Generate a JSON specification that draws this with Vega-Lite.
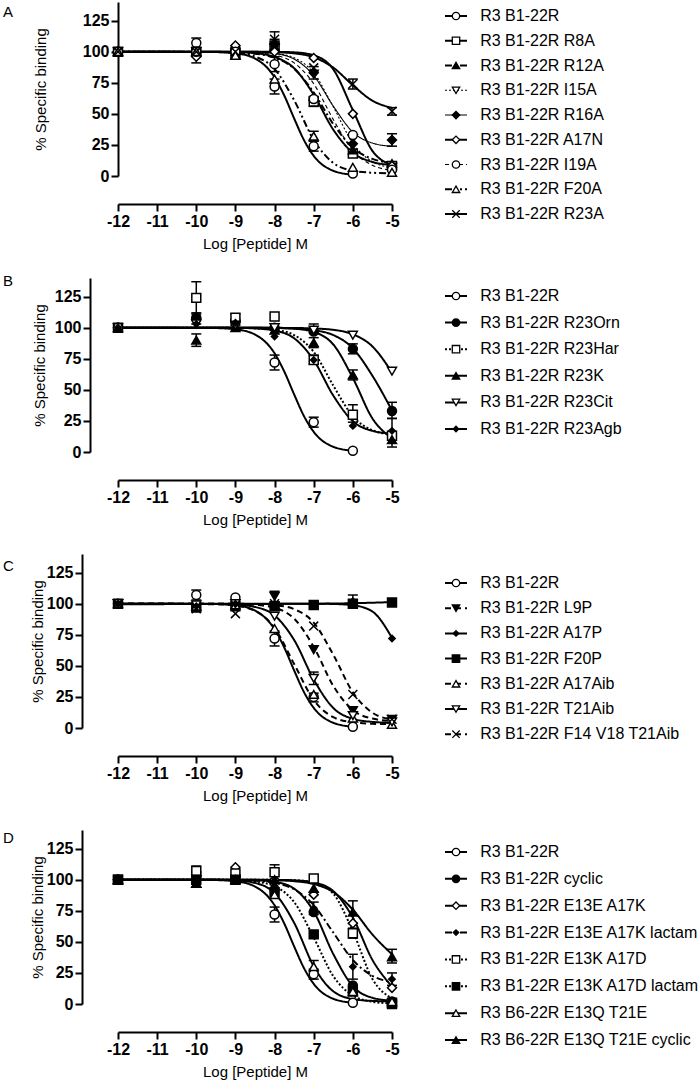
{
"$schema": "https://vega.github.io/schema/vega-lite/v6.json",
"padding": {"left": 3, "top": 2, "right": 5, "bottom": 5},
"background": "white",
"config": {
  "font": "Liberation Sans",
  "view": {"stroke": null},
  "axis": {"domainColor": "black", "domainWidth": 2, "tickColor": "black", "tickWidth": 2, "tickSize": 7, "labelFont": "Liberation Sans", "labelFontSize": 16, "labelFontWeight": "bold", "labelColor": "black", "titleFont": "Liberation Sans", "titleFontSize": 15, "titleFontWeight": "normal", "titleColor": "black", "grid": false, "labelPadding": 2, "titlePadding": 7},
  "title": {"font": "Liberation Sans", "fontSize": 15, "fontWeight": "normal", "color": "black", "anchor": "start", "frame": "group", "offset": 0}
},
"datasets": {
"pts": [
{"p":"A","s":"R3 B1-22R","x":-12,"y":100},{"p":"A","s":"R3 B1-22R","x":-10,"y":107},{"p":"A","s":"R3 B1-22R","x":-9,"y":103},{"p":"A","s":"R3 B1-22R","x":-8,"y":72},{"p":"A","s":"R3 B1-22R","x":-7,"y":24},{"p":"A","s":"R3 B1-22R","x":-6,"y":2},
{"p":"A","s":"R3 B1-22R R8A","x":-12,"y":100},{"p":"A","s":"R3 B1-22R R8A","x":-10,"y":100},{"p":"A","s":"R3 B1-22R R8A","x":-9,"y":98},{"p":"A","s":"R3 B1-22R R8A","x":-8,"y":105},{"p":"A","s":"R3 B1-22R R8A","x":-7,"y":60},{"p":"A","s":"R3 B1-22R R8A","x":-6,"y":18},{"p":"A","s":"R3 B1-22R R8A","x":-5,"y":8},
{"p":"A","s":"R3 B1-22R R12A","x":-12,"y":100},{"p":"A","s":"R3 B1-22R R12A","x":-10,"y":100},{"p":"A","s":"R3 B1-22R R12A","x":-9,"y":97},{"p":"A","s":"R3 B1-22R R12A","x":-8,"y":104},{"p":"A","s":"R3 B1-22R R12A","x":-7,"y":64},{"p":"A","s":"R3 B1-22R R12A","x":-6,"y":21},{"p":"A","s":"R3 B1-22R R12A","x":-5,"y":10},
{"p":"A","s":"R3 B1-22R I15A","x":-12,"y":100},{"p":"A","s":"R3 B1-22R I15A","x":-10,"y":100},{"p":"A","s":"R3 B1-22R I15A","x":-9,"y":99},{"p":"A","s":"R3 B1-22R I15A","x":-8,"y":103},{"p":"A","s":"R3 B1-22R I15A","x":-7,"y":82},{"p":"A","s":"R3 B1-22R I15A","x":-6,"y":30},{"p":"A","s":"R3 B1-22R I15A","x":-5,"y":7},
{"p":"A","s":"R3 B1-22R R16A","x":-12,"y":100},{"p":"A","s":"R3 B1-22R R16A","x":-10,"y":99},{"p":"A","s":"R3 B1-22R R16A","x":-9,"y":100},{"p":"A","s":"R3 B1-22R R16A","x":-8,"y":106},{"p":"A","s":"R3 B1-22R R16A","x":-7,"y":83},{"p":"A","s":"R3 B1-22R R16A","x":-6,"y":26},{"p":"A","s":"R3 B1-22R R16A","x":-5,"y":29},
{"p":"A","s":"R3 B1-22R A17N","x":-12,"y":100},{"p":"A","s":"R3 B1-22R A17N","x":-10,"y":96},{"p":"A","s":"R3 B1-22R A17N","x":-9,"y":105},{"p":"A","s":"R3 B1-22R A17N","x":-8,"y":100},{"p":"A","s":"R3 B1-22R A17N","x":-7,"y":95},{"p":"A","s":"R3 B1-22R A17N","x":-6,"y":50},{"p":"A","s":"R3 B1-22R A17N","x":-5,"y":8},
{"p":"A","s":"R3 B1-22R I19A","x":-12,"y":100},{"p":"A","s":"R3 B1-22R I19A","x":-10,"y":100},{"p":"A","s":"R3 B1-22R I19A","x":-9,"y":100},{"p":"A","s":"R3 B1-22R I19A","x":-8,"y":90},{"p":"A","s":"R3 B1-22R I19A","x":-7,"y":62},{"p":"A","s":"R3 B1-22R I19A","x":-6,"y":33},{"p":"A","s":"R3 B1-22R I19A","x":-5,"y":5},
{"p":"A","s":"R3 B1-22R F20A","x":-12,"y":100},{"p":"A","s":"R3 B1-22R F20A","x":-10,"y":100},{"p":"A","s":"R3 B1-22R F20A","x":-9,"y":97},{"p":"A","s":"R3 B1-22R F20A","x":-8,"y":78},{"p":"A","s":"R3 B1-22R F20A","x":-7,"y":32},{"p":"A","s":"R3 B1-22R F20A","x":-6,"y":7},{"p":"A","s":"R3 B1-22R F20A","x":-5,"y":3},
{"p":"A","s":"R3 B1-22R R23A","x":-12,"y":100},{"p":"A","s":"R3 B1-22R R23A","x":-10,"y":100},{"p":"A","s":"R3 B1-22R R23A","x":-9,"y":100},{"p":"A","s":"R3 B1-22R R23A","x":-8,"y":110},{"p":"A","s":"R3 B1-22R R23A","x":-7,"y":87},{"p":"A","s":"R3 B1-22R R23A","x":-6,"y":74},{"p":"A","s":"R3 B1-22R R23A","x":-5,"y":52},
{"p":"B","s":"R3 B1-22R","x":-12,"y":100},{"p":"B","s":"R3 B1-22R","x":-10,"y":107},{"p":"B","s":"R3 B1-22R","x":-9,"y":104},{"p":"B","s":"R3 B1-22R","x":-8,"y":72},{"p":"B","s":"R3 B1-22R","x":-7,"y":24},{"p":"B","s":"R3 B1-22R","x":-6,"y":1},
{"p":"B","s":"R3 B1-22R R23Orn","x":-12,"y":100},{"p":"B","s":"R3 B1-22R R23Orn","x":-10,"y":108},{"p":"B","s":"R3 B1-22R R23Orn","x":-9,"y":106},{"p":"B","s":"R3 B1-22R R23Orn","x":-8,"y":100},{"p":"B","s":"R3 B1-22R R23Orn","x":-7,"y":97},{"p":"B","s":"R3 B1-22R R23Orn","x":-6,"y":83},{"p":"B","s":"R3 B1-22R R23Orn","x":-5,"y":33},
{"p":"B","s":"R3 B1-22R R23Har","x":-12,"y":100},{"p":"B","s":"R3 B1-22R R23Har","x":-10,"y":124},{"p":"B","s":"R3 B1-22R R23Har","x":-9,"y":108},{"p":"B","s":"R3 B1-22R R23Har","x":-8,"y":109},{"p":"B","s":"R3 B1-22R R23Har","x":-7,"y":74},{"p":"B","s":"R3 B1-22R R23Har","x":-6,"y":30},{"p":"B","s":"R3 B1-22R R23Har","x":-5,"y":13},
{"p":"B","s":"R3 B1-22R R23K","x":-12,"y":100},{"p":"B","s":"R3 B1-22R R23K","x":-10,"y":90},{"p":"B","s":"R3 B1-22R R23K","x":-9,"y":100},{"p":"B","s":"R3 B1-22R R23K","x":-8,"y":98},{"p":"B","s":"R3 B1-22R R23K","x":-7,"y":88},{"p":"B","s":"R3 B1-22R R23K","x":-6,"y":62},{"p":"B","s":"R3 B1-22R R23K","x":-5,"y":10},
{"p":"B","s":"R3 B1-22R R23Cit","x":-12,"y":100},{"p":"B","s":"R3 B1-22R R23Cit","x":-10,"y":103},{"p":"B","s":"R3 B1-22R R23Cit","x":-9,"y":102},{"p":"B","s":"R3 B1-22R R23Cit","x":-8,"y":100},{"p":"B","s":"R3 B1-22R R23Cit","x":-7,"y":98},{"p":"B","s":"R3 B1-22R R23Cit","x":-6,"y":94},{"p":"B","s":"R3 B1-22R R23Cit","x":-5,"y":65},
{"p":"B","s":"R3 B1-22R R23Agb","x":-12,"y":100},{"p":"B","s":"R3 B1-22R R23Agb","x":-10,"y":103},{"p":"B","s":"R3 B1-22R R23Agb","x":-9,"y":104},{"p":"B","s":"R3 B1-22R R23Agb","x":-8,"y":93},{"p":"B","s":"R3 B1-22R R23Agb","x":-7,"y":74},{"p":"B","s":"R3 B1-22R R23Agb","x":-6,"y":21},{"p":"B","s":"R3 B1-22R R23Agb","x":-5,"y":17},
{"p":"C","s":"R3 B1-22R","x":-12,"y":100},{"p":"C","s":"R3 B1-22R","x":-10,"y":107},{"p":"C","s":"R3 B1-22R","x":-9,"y":105},{"p":"C","s":"R3 B1-22R","x":-8,"y":72},{"p":"C","s":"R3 B1-22R","x":-7,"y":25},{"p":"C","s":"R3 B1-22R","x":-6,"y":1},
{"p":"C","s":"R3 B1-22R L9P","x":-12,"y":100},{"p":"C","s":"R3 B1-22R L9P","x":-10,"y":97},{"p":"C","s":"R3 B1-22R L9P","x":-9,"y":100},{"p":"C","s":"R3 B1-22R L9P","x":-8,"y":106},{"p":"C","s":"R3 B1-22R L9P","x":-7,"y":63},{"p":"C","s":"R3 B1-22R L9P","x":-6,"y":14},{"p":"C","s":"R3 B1-22R L9P","x":-5,"y":7},
{"p":"C","s":"R3 B1-22R A17P","x":-12,"y":100},{"p":"C","s":"R3 B1-22R A17P","x":-10,"y":98},{"p":"C","s":"R3 B1-22R A17P","x":-9,"y":100},{"p":"C","s":"R3 B1-22R A17P","x":-8,"y":100},{"p":"C","s":"R3 B1-22R A17P","x":-7,"y":99},{"p":"C","s":"R3 B1-22R A17P","x":-6,"y":102},{"p":"C","s":"R3 B1-22R A17P","x":-5,"y":72},
{"p":"C","s":"R3 B1-22R F20P","x":-12,"y":100},{"p":"C","s":"R3 B1-22R F20P","x":-10,"y":97},{"p":"C","s":"R3 B1-22R F20P","x":-9,"y":98},{"p":"C","s":"R3 B1-22R F20P","x":-8,"y":98},{"p":"C","s":"R3 B1-22R F20P","x":-7,"y":99},{"p":"C","s":"R3 B1-22R F20P","x":-6,"y":100},{"p":"C","s":"R3 B1-22R F20P","x":-5,"y":101},
{"p":"C","s":"R3 B1-22R A17Aib","x":-12,"y":100},{"p":"C","s":"R3 B1-22R A17Aib","x":-10,"y":98},{"p":"C","s":"R3 B1-22R A17Aib","x":-9,"y":99},{"p":"C","s":"R3 B1-22R A17Aib","x":-8,"y":80},{"p":"C","s":"R3 B1-22R A17Aib","x":-7,"y":27},{"p":"C","s":"R3 B1-22R A17Aib","x":-6,"y":8},{"p":"C","s":"R3 B1-22R A17Aib","x":-5,"y":3},
{"p":"C","s":"R3 B1-22R T21Aib","x":-12,"y":100},{"p":"C","s":"R3 B1-22R T21Aib","x":-10,"y":99},{"p":"C","s":"R3 B1-22R T21Aib","x":-9,"y":100},{"p":"C","s":"R3 B1-22R T21Aib","x":-8,"y":90},{"p":"C","s":"R3 B1-22R T21Aib","x":-7,"y":40},{"p":"C","s":"R3 B1-22R T21Aib","x":-6,"y":10},{"p":"C","s":"R3 B1-22R T21Aib","x":-5,"y":5},
{"p":"C","s":"R3 B1-22R F14 V18 T21Aib","x":-12,"y":100},{"p":"C","s":"R3 B1-22R F14 V18 T21Aib","x":-10,"y":96},{"p":"C","s":"R3 B1-22R F14 V18 T21Aib","x":-9,"y":92},{"p":"C","s":"R3 B1-22R F14 V18 T21Aib","x":-8,"y":100},{"p":"C","s":"R3 B1-22R F14 V18 T21Aib","x":-7,"y":82},{"p":"C","s":"R3 B1-22R F14 V18 T21Aib","x":-6,"y":27},{"p":"C","s":"R3 B1-22R F14 V18 T21Aib","x":-5,"y":7},
{"p":"D","s":"R3 B1-22R","x":-12,"y":100},{"p":"D","s":"R3 B1-22R","x":-10,"y":106},{"p":"D","s":"R3 B1-22R","x":-9,"y":103},{"p":"D","s":"R3 B1-22R","x":-8,"y":72},{"p":"D","s":"R3 B1-22R","x":-7,"y":24},{"p":"D","s":"R3 B1-22R","x":-6,"y":1},
{"p":"D","s":"R3 B1-22R cyclic","x":-12,"y":100},{"p":"D","s":"R3 B1-22R cyclic","x":-10,"y":103},{"p":"D","s":"R3 B1-22R cyclic","x":-9,"y":102},{"p":"D","s":"R3 B1-22R cyclic","x":-8,"y":92},{"p":"D","s":"R3 B1-22R cyclic","x":-7,"y":74},{"p":"D","s":"R3 B1-22R cyclic","x":-6,"y":15},{"p":"D","s":"R3 B1-22R cyclic","x":-5,"y":2},
{"p":"D","s":"R3 B1-22R E13E A17K","x":-12,"y":100},{"p":"D","s":"R3 B1-22R E13E A17K","x":-10,"y":103},{"p":"D","s":"R3 B1-22R E13E A17K","x":-9,"y":110},{"p":"D","s":"R3 B1-22R E13E A17K","x":-8,"y":100},{"p":"D","s":"R3 B1-22R E13E A17K","x":-7,"y":88},{"p":"D","s":"R3 B1-22R E13E A17K","x":-6,"y":65},{"p":"D","s":"R3 B1-22R E13E A17K","x":-5,"y":13},
{"p":"D","s":"R3 B1-22R E13E A17K lactam","x":-12,"y":100},{"p":"D","s":"R3 B1-22R E13E A17K lactam","x":-10,"y":100},{"p":"D","s":"R3 B1-22R E13E A17K lactam","x":-9,"y":100},{"p":"D","s":"R3 B1-22R E13E A17K lactam","x":-8,"y":95},{"p":"D","s":"R3 B1-22R E13E A17K lactam","x":-7,"y":77},{"p":"D","s":"R3 B1-22R E13E A17K lactam","x":-6,"y":30},{"p":"D","s":"R3 B1-22R E13E A17K lactam","x":-5,"y":20},
{"p":"D","s":"R3 B1-22R E13K A17D","x":-12,"y":100},{"p":"D","s":"R3 B1-22R E13K A17D","x":-10,"y":107},{"p":"D","s":"R3 B1-22R E13K A17D","x":-9,"y":105},{"p":"D","s":"R3 B1-22R E13K A17D","x":-8,"y":106},{"p":"D","s":"R3 B1-22R E13K A17D","x":-7,"y":101},{"p":"D","s":"R3 B1-22R E13K A17D","x":-6,"y":57},{"p":"D","s":"R3 B1-22R E13K A17D","x":-5,"y":1},
{"p":"D","s":"R3 B1-22R E13K A17D lactam","x":-12,"y":100},{"p":"D","s":"R3 B1-22R E13K A17D lactam","x":-10,"y":100},{"p":"D","s":"R3 B1-22R E13K A17D lactam","x":-9,"y":100},{"p":"D","s":"R3 B1-22R E13K A17D lactam","x":-8,"y":90},{"p":"D","s":"R3 B1-22R E13K A17D lactam","x":-7,"y":56},{"p":"D","s":"R3 B1-22R E13K A17D lactam","x":-6,"y":10},{"p":"D","s":"R3 B1-22R E13K A17D lactam","x":-5,"y":0},
{"p":"D","s":"R3 B6-22R E13Q T21E","x":-12,"y":100},{"p":"D","s":"R3 B6-22R E13Q T21E","x":-10,"y":97},{"p":"D","s":"R3 B6-22R E13Q T21E","x":-9,"y":100},{"p":"D","s":"R3 B6-22R E13Q T21E","x":-8,"y":88},{"p":"D","s":"R3 B6-22R E13Q T21E","x":-7,"y":30},{"p":"D","s":"R3 B6-22R E13Q T21E","x":-6,"y":10},{"p":"D","s":"R3 B6-22R E13Q T21E","x":-5,"y":2},
{"p":"D","s":"R3 B6-22R E13Q T21E cyclic","x":-12,"y":100},{"p":"D","s":"R3 B6-22R E13Q T21E cyclic","x":-10,"y":97},{"p":"D","s":"R3 B6-22R E13Q T21E cyclic","x":-9,"y":100},{"p":"D","s":"R3 B6-22R E13Q T21E cyclic","x":-8,"y":100},{"p":"D","s":"R3 B6-22R E13Q T21E cyclic","x":-7,"y":93},{"p":"D","s":"R3 B6-22R E13Q T21E cyclic","x":-6,"y":74},{"p":"D","s":"R3 B6-22R E13Q T21E cyclic","x":-5,"y":38}
],
"err": [
{"p":"A","s":"R3 B1-22R","x":-10,"lo":102,"hi":111},{"p":"A","s":"R3 B1-22R","x":-8,"lo":66,"hi":78},{"p":"A","s":"R3 B1-22R","x":-7,"lo":20,"hi":28},
{"p":"A","s":"R3 B1-22R R8A","x":-7,"lo":56,"hi":64},{"p":"A","s":"R3 B1-22R R8A","x":-6,"lo":15,"hi":21},
{"p":"A","s":"R3 B1-22R R16A","x":-8,"lo":102,"hi":110},{"p":"A","s":"R3 B1-22R R16A","x":-7,"lo":78,"hi":88},{"p":"A","s":"R3 B1-22R R16A","x":-5,"lo":24,"hi":34},
{"p":"A","s":"R3 B1-22R A17N","x":-10,"lo":91,"hi":100},{"p":"A","s":"R3 B1-22R I19A","x":-8,"lo":84,"hi":96},{"p":"A","s":"R3 B1-22R F20A","x":-7,"lo":28,"hi":36},
{"p":"A","s":"R3 B1-22R R23A","x":-8,"lo":104,"hi":116},{"p":"A","s":"R3 B1-22R R23A","x":-6,"lo":70,"hi":78},{"p":"A","s":"R3 B1-22R R23A","x":-5,"lo":49,"hi":55},
{"p":"B","s":"R3 B1-22R","x":-10,"lo":103,"hi":111},{"p":"B","s":"R3 B1-22R","x":-8,"lo":66,"hi":78},{"p":"B","s":"R3 B1-22R","x":-7,"lo":20,"hi":28},
{"p":"B","s":"R3 B1-22R R23Orn","x":-9,"lo":102,"hi":111},{"p":"B","s":"R3 B1-22R R23Orn","x":-6,"lo":79,"hi":87},{"p":"B","s":"R3 B1-22R R23Orn","x":-5,"lo":27,"hi":40},
{"p":"B","s":"R3 B1-22R R23Har","x":-10,"lo":112,"hi":137},{"p":"B","s":"R3 B1-22R R23Har","x":-7,"lo":71,"hi":78},{"p":"B","s":"R3 B1-22R R23Har","x":-6,"lo":24,"hi":38},
{"p":"B","s":"R3 B1-22R R23K","x":-10,"lo":85,"hi":95},{"p":"B","s":"R3 B1-22R R23K","x":-7,"lo":84,"hi":92},{"p":"B","s":"R3 B1-22R R23K","x":-6,"lo":58,"hi":66},{"p":"B","s":"R3 B1-22R R23K","x":-5,"lo":4,"hi":15},
{"p":"B","s":"R3 B1-22R R23Cit","x":-7,"lo":96,"hi":103},{"p":"B","s":"R3 B1-22R R23Agb","x":-5,"lo":12,"hi":27},
{"p":"C","s":"R3 B1-22R","x":-10,"lo":103,"hi":111},{"p":"C","s":"R3 B1-22R","x":-8,"lo":66,"hi":78},{"p":"C","s":"R3 B1-22R","x":-7,"lo":21,"hi":28},
{"p":"C","s":"R3 B1-22R L9P","x":-8,"lo":101,"hi":110},{"p":"C","s":"R3 B1-22R A17P","x":-6,"lo":98,"hi":107},{"p":"C","s":"R3 B1-22R T21Aib","x":-7,"lo":35,"hi":45},
{"p":"D","s":"R3 B1-22R","x":-10,"lo":102,"hi":111},{"p":"D","s":"R3 B1-22R","x":-8,"lo":66,"hi":78},{"p":"D","s":"R3 B1-22R","x":-7,"lo":20,"hi":28},
{"p":"D","s":"R3 B1-22R E13K A17D","x":-8,"lo":100,"hi":112},{"p":"D","s":"R3 B1-22R E13K A17D","x":-6,"lo":53,"hi":61},
{"p":"D","s":"R3 B1-22R E13E A17K lactam","x":-7,"lo":72,"hi":82},{"p":"D","s":"R3 B1-22R E13E A17K lactam","x":-6,"lo":20,"hi":40},{"p":"D","s":"R3 B1-22R E13E A17K lactam","x":-5,"lo":15,"hi":25},
{"p":"D","s":"R3 B6-22R E13Q T21E","x":-7,"lo":26,"hi":35},
{"p":"D","s":"R3 B6-22R E13Q T21E cyclic","x":-10,"lo":94,"hi":100},{"p":"D","s":"R3 B6-22R E13Q T21E cyclic","x":-7,"lo":90,"hi":97},{"p":"D","s":"R3 B6-22R E13Q T21E cyclic","x":-6,"lo":65,"hi":83},{"p":"D","s":"R3 B6-22R E13Q T21E cyclic","x":-5,"lo":33,"hi":44}
],
"crv": [
{"p":"A","s":"R3 B1-22R","x":-12,"y":100},{"p":"A","s":"R3 B1-22R","x":-9.5,"y":99.7},{"p":"A","s":"R3 B1-22R","x":-9,"y":98.7},{"p":"A","s":"R3 B1-22R","x":-8.5,"y":94.5},{"p":"A","s":"R3 B1-22R","x":-8,"y":79.4},{"p":"A","s":"R3 B1-22R","x":-7.75,"y":64.6},{"p":"A","s":"R3 B1-22R","x":-7.5,"y":46.3},{"p":"A","s":"R3 B1-22R","x":-7.25,"y":29},{"p":"A","s":"R3 B1-22R","x":-7,"y":16.2},{"p":"A","s":"R3 B1-22R","x":-6.5,"y":4.2},{"p":"A","s":"R3 B1-22R","x":-6,"y":1},
{"p":"A","s":"R3 B1-22R R8A","x":-12,"y":100},{"p":"A","s":"R3 B1-22R R8A","x":-9.5,"y":99.9},{"p":"A","s":"R3 B1-22R R8A","x":-9,"y":99.6},{"p":"A","s":"R3 B1-22R R8A","x":-8.5,"y":98.8},{"p":"A","s":"R3 B1-22R R8A","x":-8,"y":95.8},{"p":"A","s":"R3 B1-22R R8A","x":-7.5,"y":86.7},{"p":"A","s":"R3 B1-22R R8A","x":-7,"y":65.4},{"p":"A","s":"R3 B1-22R R8A","x":-6.5,"y":37.3},{"p":"A","s":"R3 B1-22R R8A","x":-6,"y":18.7},{"p":"A","s":"R3 B1-22R R8A","x":-5.5,"y":11.3},{"p":"A","s":"R3 B1-22R R8A","x":-5,"y":8.9},
{"p":"A","s":"R3 B1-22R R12A","x":-12,"y":100},{"p":"A","s":"R3 B1-22R R12A","x":-9.5,"y":99.8},{"p":"A","s":"R3 B1-22R R12A","x":-9,"y":99.5},{"p":"A","s":"R3 B1-22R R12A","x":-8.5,"y":98.4},{"p":"A","s":"R3 B1-22R R12A","x":-8,"y":95.2},{"p":"A","s":"R3 B1-22R R12A","x":-7.5,"y":86.3},{"p":"A","s":"R3 B1-22R R12A","x":-7,"y":67.2},{"p":"A","s":"R3 B1-22R R12A","x":-6.5,"y":41.8},{"p":"A","s":"R3 B1-22R R12A","x":-6,"y":22.7},{"p":"A","s":"R3 B1-22R R12A","x":-5.5,"y":13.8},{"p":"A","s":"R3 B1-22R R12A","x":-5,"y":10.6},
{"p":"A","s":"R3 B1-22R I15A","x":-12,"y":100},{"p":"A","s":"R3 B1-22R I15A","x":-9.5,"y":100},{"p":"A","s":"R3 B1-22R I15A","x":-9,"y":99.9},{"p":"A","s":"R3 B1-22R I15A","x":-8.5,"y":99.7},{"p":"A","s":"R3 B1-22R I15A","x":-8,"y":98.7},{"p":"A","s":"R3 B1-22R I15A","x":-7.5,"y":95.1},{"p":"A","s":"R3 B1-22R I15A","x":-7,"y":82.9},{"p":"A","s":"R3 B1-22R I15A","x":-6.5,"y":55.7},{"p":"A","s":"R3 B1-22R I15A","x":-6,"y":26.3},{"p":"A","s":"R3 B1-22R I15A","x":-5.5,"y":11.5},{"p":"A","s":"R3 B1-22R I15A","x":-5,"y":6.7},
{"p":"A","s":"R3 B1-22R R16A","x":-12,"y":100},{"p":"A","s":"R3 B1-22R R16A","x":-9.5,"y":100},{"p":"A","s":"R3 B1-22R R16A","x":-9,"y":99.9},{"p":"A","s":"R3 B1-22R R16A","x":-8.5,"y":99.6},{"p":"A","s":"R3 B1-22R R16A","x":-8,"y":98.5},{"p":"A","s":"R3 B1-22R R16A","x":-7.5,"y":94.1},{"p":"A","s":"R3 B1-22R R16A","x":-7,"y":80.8},{"p":"A","s":"R3 B1-22R R16A","x":-6.5,"y":56.2},{"p":"A","s":"R3 B1-22R R16A","x":-6,"y":35.3},{"p":"A","s":"R3 B1-22R R16A","x":-5.5,"y":26.5},{"p":"A","s":"R3 B1-22R R16A","x":-5,"y":23.9},
{"p":"A","s":"R3 B1-22R A17N","x":-12,"y":100},{"p":"A","s":"R3 B1-22R A17N","x":-9.5,"y":100},{"p":"A","s":"R3 B1-22R A17N","x":-9,"y":100},{"p":"A","s":"R3 B1-22R A17N","x":-8.5,"y":100},{"p":"A","s":"R3 B1-22R A17N","x":-8,"y":99.9},{"p":"A","s":"R3 B1-22R A17N","x":-7.5,"y":99.5},{"p":"A","s":"R3 B1-22R A17N","x":-7,"y":97.1},{"p":"A","s":"R3 B1-22R A17N","x":-6.5,"y":85.8},{"p":"A","s":"R3 B1-22R A17N","x":-6,"y":53},{"p":"A","s":"R3 B1-22R A17N","x":-5.5,"y":20.2},{"p":"A","s":"R3 B1-22R A17N","x":-5,"y":8.9},
{"p":"A","s":"R3 B1-22R I19A","x":-12,"y":100},{"p":"A","s":"R3 B1-22R I19A","x":-9.5,"y":100},{"p":"A","s":"R3 B1-22R I19A","x":-9,"y":99.8},{"p":"A","s":"R3 B1-22R I19A","x":-8.5,"y":99.2},{"p":"A","s":"R3 B1-22R I19A","x":-8,"y":97.3},{"p":"A","s":"R3 B1-22R I19A","x":-7.5,"y":91},{"p":"A","s":"R3 B1-22R I19A","x":-7,"y":74.2},{"p":"A","s":"R3 B1-22R I19A","x":-6.5,"y":45.4},{"p":"A","s":"R3 B1-22R I19A","x":-6,"y":20.5},{"p":"A","s":"R3 B1-22R I19A","x":-5.5,"y":8.6},{"p":"A","s":"R3 B1-22R I19A","x":-5,"y":4.7},
{"p":"A","s":"R3 B1-22R F20A","x":-12,"y":100},{"p":"A","s":"R3 B1-22R F20A","x":-9.5,"y":99.7},{"p":"A","s":"R3 B1-22R F20A","x":-9,"y":99},{"p":"A","s":"R3 B1-22R F20A","x":-8.5,"y":96.1},{"p":"A","s":"R3 B1-22R F20A","x":-8,"y":86.1},{"p":"A","s":"R3 B1-22R F20A","x":-7.5,"y":61},{"p":"A","s":"R3 B1-22R F20A","x":-7,"y":29},{"p":"A","s":"R3 B1-22R F20A","x":-6.5,"y":10.5},{"p":"A","s":"R3 B1-22R F20A","x":-6,"y":4.3},{"p":"A","s":"R3 B1-22R F20A","x":-5.5,"y":2.6},{"p":"A","s":"R3 B1-22R F20A","x":-5,"y":2.1},
{"p":"A","s":"R3 B1-22R R23A","x":-12,"y":100},{"p":"A","s":"R3 B1-22R R23A","x":-9.5,"y":100},{"p":"A","s":"R3 B1-22R R23A","x":-9,"y":100},{"p":"A","s":"R3 B1-22R R23A","x":-8.5,"y":99.9},{"p":"A","s":"R3 B1-22R R23A","x":-8,"y":99.6},{"p":"A","s":"R3 B1-22R R23A","x":-7.5,"y":98.7},{"p":"A","s":"R3 B1-22R R23A","x":-7,"y":95.5},{"p":"A","s":"R3 B1-22R R23A","x":-6.5,"y":87.2},{"p":"A","s":"R3 B1-22R R23A","x":-6,"y":73},{"p":"A","s":"R3 B1-22R R23A","x":-5.5,"y":60.6},{"p":"A","s":"R3 B1-22R R23A","x":-5,"y":54.8},
{"p":"B","s":"R3 B1-22R","x":-12,"y":100},{"p":"B","s":"R3 B1-22R","x":-9.5,"y":99.7},{"p":"B","s":"R3 B1-22R","x":-9,"y":98.7},{"p":"B","s":"R3 B1-22R","x":-8.5,"y":94.5},{"p":"B","s":"R3 B1-22R","x":-8,"y":79.4},{"p":"B","s":"R3 B1-22R","x":-7.75,"y":64.6},{"p":"B","s":"R3 B1-22R","x":-7.5,"y":46.3},{"p":"B","s":"R3 B1-22R","x":-7.25,"y":29},{"p":"B","s":"R3 B1-22R","x":-7,"y":16.2},{"p":"B","s":"R3 B1-22R","x":-6.5,"y":4.2},{"p":"B","s":"R3 B1-22R","x":-6,"y":1},
{"p":"B","s":"R3 B1-22R R23Orn","x":-12,"y":100},{"p":"B","s":"R3 B1-22R R23Orn","x":-9.5,"y":100},{"p":"B","s":"R3 B1-22R R23Orn","x":-9,"y":100},{"p":"B","s":"R3 B1-22R R23Orn","x":-8.5,"y":99.9},{"p":"B","s":"R3 B1-22R R23Orn","x":-8,"y":99.8},{"p":"B","s":"R3 B1-22R R23Orn","x":-7.5,"y":99.4},{"p":"B","s":"R3 B1-22R R23Orn","x":-7,"y":98},{"p":"B","s":"R3 B1-22R R23Orn","x":-6.5,"y":94.1},{"p":"B","s":"R3 B1-22R R23Orn","x":-6,"y":83.4},{"p":"B","s":"R3 B1-22R R23Orn","x":-5.5,"y":61.3},{"p":"B","s":"R3 B1-22R R23Orn","x":-5,"y":33.4},
{"p":"B","s":"R3 B1-22R R23Har","x":-12,"y":100},{"p":"B","s":"R3 B1-22R R23Har","x":-9.5,"y":100},{"p":"B","s":"R3 B1-22R R23Har","x":-9,"y":99.9},{"p":"B","s":"R3 B1-22R R23Har","x":-8.5,"y":99.6},{"p":"B","s":"R3 B1-22R R23Har","x":-8,"y":98.4},{"p":"B","s":"R3 B1-22R R23Har","x":-7.5,"y":94.1},{"p":"B","s":"R3 B1-22R R23Har","x":-7,"y":80.5},{"p":"B","s":"R3 B1-22R R23Har","x":-6.5,"y":53.5},{"p":"B","s":"R3 B1-22R R23Har","x":-6,"y":28.7},{"p":"B","s":"R3 B1-22R R23Har","x":-5.5,"y":17.5},{"p":"B","s":"R3 B1-22R R23Har","x":-5,"y":14.2},
{"p":"B","s":"R3 B1-22R R23K","x":-12,"y":100},{"p":"B","s":"R3 B1-22R R23K","x":-9.5,"y":100},{"p":"B","s":"R3 B1-22R R23K","x":-9,"y":100},{"p":"B","s":"R3 B1-22R R23K","x":-8.5,"y":100},{"p":"B","s":"R3 B1-22R R23K","x":-8,"y":99.8},{"p":"B","s":"R3 B1-22R R23K","x":-7.5,"y":99.2},{"p":"B","s":"R3 B1-22R R23K","x":-7,"y":96.6},{"p":"B","s":"R3 B1-22R R23K","x":-6.5,"y":86.5},{"p":"B","s":"R3 B1-22R R23K","x":-6,"y":59.5},{"p":"B","s":"R3 B1-22R R23K","x":-5.5,"y":27},{"p":"B","s":"R3 B1-22R R23K","x":-5,"y":11},
{"p":"B","s":"R3 B1-22R R23Cit","x":-12,"y":100},{"p":"B","s":"R3 B1-22R R23Cit","x":-9.5,"y":100},{"p":"B","s":"R3 B1-22R R23Cit","x":-9,"y":100},{"p":"B","s":"R3 B1-22R R23Cit","x":-8.5,"y":100},{"p":"B","s":"R3 B1-22R R23Cit","x":-8,"y":99.9},{"p":"B","s":"R3 B1-22R R23Cit","x":-7.5,"y":99.8},{"p":"B","s":"R3 B1-22R R23Cit","x":-7,"y":99.4},{"p":"B","s":"R3 B1-22R R23Cit","x":-6.5,"y":98.3},{"p":"B","s":"R3 B1-22R R23Cit","x":-6,"y":94.7},{"p":"B","s":"R3 B1-22R R23Cit","x":-5.5,"y":84.9},{"p":"B","s":"R3 B1-22R R23Cit","x":-5,"y":64},
{"p":"B","s":"R3 B1-22R R23Agb","x":-12,"y":100},{"p":"B","s":"R3 B1-22R R23Agb","x":-9.5,"y":100},{"p":"B","s":"R3 B1-22R R23Agb","x":-9,"y":99.9},{"p":"B","s":"R3 B1-22R R23Agb","x":-8.5,"y":99.4},{"p":"B","s":"R3 B1-22R R23Agb","x":-8,"y":97.7},{"p":"B","s":"R3 B1-22R R23Agb","x":-7.5,"y":91.5},{"p":"B","s":"R3 B1-22R R23Agb","x":-7,"y":73.9},{"p":"B","s":"R3 B1-22R R23Agb","x":-6.5,"y":45.4},{"p":"B","s":"R3 B1-22R R23Agb","x":-6,"y":24.8},{"p":"B","s":"R3 B1-22R R23Agb","x":-5.5,"y":17},{"p":"B","s":"R3 B1-22R R23Agb","x":-5,"y":14.8},
{"p":"C","s":"R3 B1-22R","x":-12,"y":100},{"p":"C","s":"R3 B1-22R","x":-9.5,"y":99.7},{"p":"C","s":"R3 B1-22R","x":-9,"y":98.7},{"p":"C","s":"R3 B1-22R","x":-8.5,"y":94.5},{"p":"C","s":"R3 B1-22R","x":-8,"y":79.4},{"p":"C","s":"R3 B1-22R","x":-7.75,"y":64.6},{"p":"C","s":"R3 B1-22R","x":-7.5,"y":46.3},{"p":"C","s":"R3 B1-22R","x":-7.25,"y":29},{"p":"C","s":"R3 B1-22R","x":-7,"y":16.2},{"p":"C","s":"R3 B1-22R","x":-6.5,"y":4.2},{"p":"C","s":"R3 B1-22R","x":-6,"y":1},
{"p":"C","s":"R3 B1-22R L9P","x":-12,"y":100},{"p":"C","s":"R3 B1-22R L9P","x":-9.5,"y":100},{"p":"C","s":"R3 B1-22R L9P","x":-9,"y":99.8},{"p":"C","s":"R3 B1-22R L9P","x":-8.5,"y":99.1},{"p":"C","s":"R3 B1-22R L9P","x":-8,"y":96.7},{"p":"C","s":"R3 B1-22R L9P","x":-7.5,"y":88},{"p":"C","s":"R3 B1-22R L9P","x":-7,"y":65.3},{"p":"C","s":"R3 B1-22R L9P","x":-6.5,"y":33.9},{"p":"C","s":"R3 B1-22R L9P","x":-6,"y":14.4},{"p":"C","s":"R3 B1-22R L9P","x":-5.5,"y":7.6},{"p":"C","s":"R3 B1-22R L9P","x":-5,"y":5.7},
{"p":"C","s":"R3 B1-22R A17P","x":-12,"y":100},{"p":"C","s":"R3 B1-22R A17P","x":-9,"y":100},{"p":"C","s":"R3 B1-22R A17P","x":-7,"y":100},{"p":"C","s":"R3 B1-22R A17P","x":-6.5,"y":99.8},{"p":"C","s":"R3 B1-22R A17P","x":-6,"y":98.8},{"p":"C","s":"R3 B1-22R A17P","x":-5.5,"y":93.7},{"p":"C","s":"R3 B1-22R A17P","x":-5,"y":72.5},
{"p":"C","s":"R3 B1-22R F20P","x":-12,"y":99.6},{"p":"C","s":"R3 B1-22R F20P","x":-9,"y":99.8},{"p":"C","s":"R3 B1-22R F20P","x":-7,"y":100},{"p":"C","s":"R3 B1-22R F20P","x":-6,"y":100.4},{"p":"C","s":"R3 B1-22R F20P","x":-5,"y":101.3},
{"p":"C","s":"R3 B1-22R A17Aib","x":-12,"y":100},{"p":"C","s":"R3 B1-22R A17Aib","x":-9.5,"y":99.6},{"p":"C","s":"R3 B1-22R A17Aib","x":-9,"y":98.4},{"p":"C","s":"R3 B1-22R A17Aib","x":-8.5,"y":94.3},{"p":"C","s":"R3 B1-22R A17Aib","x":-8,"y":80.5},{"p":"C","s":"R3 B1-22R A17Aib","x":-7.5,"y":51.5},{"p":"C","s":"R3 B1-22R A17Aib","x":-7,"y":22.5},{"p":"C","s":"R3 B1-22R A17Aib","x":-6.5,"y":8.7},{"p":"C","s":"R3 B1-22R A17Aib","x":-6,"y":4.6},{"p":"C","s":"R3 B1-22R A17Aib","x":-5.5,"y":3.4},{"p":"C","s":"R3 B1-22R A17Aib","x":-5,"y":3.1},
{"p":"C","s":"R3 B1-22R T21Aib","x":-12,"y":100},{"p":"C","s":"R3 B1-22R T21Aib","x":-9.5,"y":99.8},{"p":"C","s":"R3 B1-22R T21Aib","x":-9,"y":99.3},{"p":"C","s":"R3 B1-22R T21Aib","x":-8.5,"y":97.4},{"p":"C","s":"R3 B1-22R T21Aib","x":-8,"y":90.5},{"p":"C","s":"R3 B1-22R T21Aib","x":-7.5,"y":70.8},{"p":"C","s":"R3 B1-22R T21Aib","x":-7,"y":39},{"p":"C","s":"R3 B1-22R T21Aib","x":-6.5,"y":16.1},{"p":"C","s":"R3 B1-22R T21Aib","x":-6,"y":7.4},{"p":"C","s":"R3 B1-22R T21Aib","x":-5.5,"y":4.9},{"p":"C","s":"R3 B1-22R T21Aib","x":-5,"y":4.2},
{"p":"C","s":"R3 B1-22R F14 V18 T21Aib","x":-12,"y":100},{"p":"C","s":"R3 B1-22R F14 V18 T21Aib","x":-9.5,"y":100},{"p":"C","s":"R3 B1-22R F14 V18 T21Aib","x":-9,"y":100},{"p":"C","s":"R3 B1-22R F14 V18 T21Aib","x":-8.5,"y":99.7},{"p":"C","s":"R3 B1-22R F14 V18 T21Aib","x":-8,"y":98.9},{"p":"C","s":"R3 B1-22R F14 V18 T21Aib","x":-7.5,"y":95.6},{"p":"C","s":"R3 B1-22R F14 V18 T21Aib","x":-7,"y":84.8},{"p":"C","s":"R3 B1-22R F14 V18 T21Aib","x":-6.5,"y":59},{"p":"C","s":"R3 B1-22R F14 V18 T21Aib","x":-6,"y":28.7},{"p":"C","s":"R3 B1-22R F14 V18 T21Aib","x":-5.5,"y":12.3},{"p":"C","s":"R3 B1-22R F14 V18 T21Aib","x":-5,"y":6.9},
{"p":"D","s":"R3 B1-22R","x":-12,"y":100},{"p":"D","s":"R3 B1-22R","x":-9.5,"y":99.7},{"p":"D","s":"R3 B1-22R","x":-9,"y":98.7},{"p":"D","s":"R3 B1-22R","x":-8.5,"y":94.5},{"p":"D","s":"R3 B1-22R","x":-8,"y":79.4},{"p":"D","s":"R3 B1-22R","x":-7.75,"y":64.6},{"p":"D","s":"R3 B1-22R","x":-7.5,"y":46.3},{"p":"D","s":"R3 B1-22R","x":-7.25,"y":29},{"p":"D","s":"R3 B1-22R","x":-7,"y":16.2},{"p":"D","s":"R3 B1-22R","x":-6.5,"y":4.2},{"p":"D","s":"R3 B1-22R","x":-6,"y":1},
{"p":"D","s":"R3 B1-22R cyclic","x":-12,"y":100},{"p":"D","s":"R3 B1-22R cyclic","x":-9.5,"y":100},{"p":"D","s":"R3 B1-22R cyclic","x":-9,"y":99.9},{"p":"D","s":"R3 B1-22R cyclic","x":-8.5,"y":99.6},{"p":"D","s":"R3 B1-22R cyclic","x":-8,"y":98.3},{"p":"D","s":"R3 B1-22R cyclic","x":-7.5,"y":92.8},{"p":"D","s":"R3 B1-22R cyclic","x":-7,"y":74.5},{"p":"D","s":"R3 B1-22R cyclic","x":-6.5,"y":40.2},{"p":"D","s":"R3 B1-22R cyclic","x":-6,"y":14.3},{"p":"D","s":"R3 B1-22R cyclic","x":-5.5,"y":5},{"p":"D","s":"R3 B1-22R cyclic","x":-5,"y":2.7},
{"p":"D","s":"R3 B1-22R E13E A17K","x":-12,"y":100},{"p":"D","s":"R3 B1-22R E13E A17K","x":-9.5,"y":100},{"p":"D","s":"R3 B1-22R E13E A17K","x":-9,"y":100},{"p":"D","s":"R3 B1-22R E13E A17K","x":-8.5,"y":100},{"p":"D","s":"R3 B1-22R E13E A17K","x":-8,"y":99.9},{"p":"D","s":"R3 B1-22R E13E A17K","x":-7.5,"y":99.5},{"p":"D","s":"R3 B1-22R E13E A17K","x":-7,"y":97.8},{"p":"D","s":"R3 B1-22R E13E A17K","x":-6.5,"y":90.8},{"p":"D","s":"R3 B1-22R E13E A17K","x":-6,"y":69.5},{"p":"D","s":"R3 B1-22R E13E A17K","x":-5.5,"y":35.5},{"p":"D","s":"R3 B1-22R E13E A17K","x":-5,"y":14.1},
{"p":"D","s":"R3 B1-22R E13E A17K lactam","x":-12,"y":100},{"p":"D","s":"R3 B1-22R E13E A17K lactam","x":-9.5,"y":99.9},{"p":"D","s":"R3 B1-22R E13E A17K lactam","x":-9,"y":99.7},{"p":"D","s":"R3 B1-22R E13E A17K lactam","x":-8.5,"y":99.2},{"p":"D","s":"R3 B1-22R E13E A17K lactam","x":-8,"y":97.4},{"p":"D","s":"R3 B1-22R E13E A17K lactam","x":-7.5,"y":92.3},{"p":"D","s":"R3 B1-22R E13E A17K lactam","x":-7,"y":79.6},{"p":"D","s":"R3 B1-22R E13E A17K lactam","x":-6.5,"y":57.5},{"p":"D","s":"R3 B1-22R E13E A17K lactam","x":-6,"y":35.4},{"p":"D","s":"R3 B1-22R E13E A17K lactam","x":-5.5,"y":22.7},{"p":"D","s":"R3 B1-22R E13E A17K lactam","x":-5,"y":17.6},
{"p":"D","s":"R3 B1-22R E13K A17D","x":-12,"y":100},{"p":"D","s":"R3 B1-22R E13K A17D","x":-9.5,"y":100},{"p":"D","s":"R3 B1-22R E13K A17D","x":-9,"y":100},{"p":"D","s":"R3 B1-22R E13K A17D","x":-8.5,"y":100},{"p":"D","s":"R3 B1-22R E13K A17D","x":-8,"y":99.9},{"p":"D","s":"R3 B1-22R E13K A17D","x":-7.5,"y":99.6},{"p":"D","s":"R3 B1-22R E13K A17D","x":-7,"y":97.8},{"p":"D","s":"R3 B1-22R E13K A17D","x":-6.5,"y":88.8},{"p":"D","s":"R3 B1-22R E13K A17D","x":-6,"y":58.5},{"p":"D","s":"R3 B1-22R E13K A17D","x":-5.5,"y":20.1},{"p":"D","s":"R3 B1-22R E13K A17D","x":-5,"y":4.3},
{"p":"D","s":"R3 B1-22R E13K A17D lactam","x":-12,"y":100},{"p":"D","s":"R3 B1-22R E13K A17D lactam","x":-9.5,"y":99.9},{"p":"D","s":"R3 B1-22R E13K A17D lactam","x":-9,"y":99.7},{"p":"D","s":"R3 B1-22R E13K A17D lactam","x":-8.5,"y":98.6},{"p":"D","s":"R3 B1-22R E13K A17D lactam","x":-8,"y":94.8},{"p":"D","s":"R3 B1-22R E13K A17D lactam","x":-7.5,"y":82},{"p":"D","s":"R3 B1-22R E13K A17D lactam","x":-7,"y":53.5},{"p":"D","s":"R3 B1-22R E13K A17D lactam","x":-6.5,"y":22.4},{"p":"D","s":"R3 B1-22R E13K A17D lactam","x":-6,"y":6.8},{"p":"D","s":"R3 B1-22R E13K A17D lactam","x":-5.5,"y":1.8},{"p":"D","s":"R3 B1-22R E13K A17D lactam","x":-5,"y":0.5},
{"p":"D","s":"R3 B6-22R E13Q T21E","x":-12,"y":100},{"p":"D","s":"R3 B6-22R E13Q T21E","x":-9.5,"y":99.9},{"p":"D","s":"R3 B6-22R E13Q T21E","x":-9,"y":99.4},{"p":"D","s":"R3 B6-22R E13Q T21E","x":-8.5,"y":97.4},{"p":"D","s":"R3 B6-22R E13Q T21E","x":-8,"y":89.2},{"p":"D","s":"R3 B6-22R E13Q T21E","x":-7.5,"y":65.3},{"p":"D","s":"R3 B6-22R E13Q T21E","x":-7,"y":30.4},{"p":"D","s":"R3 B6-22R E13Q T21E","x":-6.5,"y":10.2},{"p":"D","s":"R3 B6-22R E13Q T21E","x":-6,"y":4},{"p":"D","s":"R3 B6-22R E13Q T21E","x":-5.5,"y":2.5},{"p":"D","s":"R3 B6-22R E13Q T21E","x":-5,"y":2.1},
{"p":"D","s":"R3 B6-22R E13Q T21E cyclic","x":-12,"y":100},{"p":"D","s":"R3 B6-22R E13Q T21E cyclic","x":-9.5,"y":100},{"p":"D","s":"R3 B6-22R E13Q T21E cyclic","x":-9,"y":100},{"p":"D","s":"R3 B6-22R E13Q T21E cyclic","x":-8.5,"y":99.9},{"p":"D","s":"R3 B6-22R E13Q T21E cyclic","x":-8,"y":99.6},{"p":"D","s":"R3 B6-22R E13Q T21E cyclic","x":-7.5,"y":98.8},{"p":"D","s":"R3 B6-22R E13Q T21E cyclic","x":-7,"y":96.5},{"p":"D","s":"R3 B6-22R E13Q T21E cyclic","x":-6.5,"y":90.1},{"p":"D","s":"R3 B6-22R E13Q T21E cyclic","x":-6,"y":75.9},{"p":"D","s":"R3 B6-22R E13Q T21E cyclic","x":-5.5,"y":55.9},{"p":"D","s":"R3 B6-22R E13Q T21E cyclic","x":-5,"y":40}
],
"leg": [
{"p":"A","s":"R3 B1-22R","i":1},{"p":"A","s":"R3 B1-22R R8A","i":2},{"p":"A","s":"R3 B1-22R R12A","i":3},{"p":"A","s":"R3 B1-22R I15A","i":4},{"p":"A","s":"R3 B1-22R R16A","i":5},{"p":"A","s":"R3 B1-22R A17N","i":6},{"p":"A","s":"R3 B1-22R I19A","i":7},{"p":"A","s":"R3 B1-22R F20A","i":8},{"p":"A","s":"R3 B1-22R R23A","i":9},
{"p":"B","s":"R3 B1-22R","i":1},{"p":"B","s":"R3 B1-22R R23Orn","i":2},{"p":"B","s":"R3 B1-22R R23Har","i":3},{"p":"B","s":"R3 B1-22R R23K","i":4},{"p":"B","s":"R3 B1-22R R23Cit","i":5},{"p":"B","s":"R3 B1-22R R23Agb","i":6},
{"p":"C","s":"R3 B1-22R","i":1},{"p":"C","s":"R3 B1-22R L9P","i":2},{"p":"C","s":"R3 B1-22R A17P","i":3},{"p":"C","s":"R3 B1-22R F20P","i":4},{"p":"C","s":"R3 B1-22R A17Aib","i":5},{"p":"C","s":"R3 B1-22R T21Aib","i":6},{"p":"C","s":"R3 B1-22R F14 V18 T21Aib","i":7},
{"p":"D","s":"R3 B1-22R","i":1},{"p":"D","s":"R3 B1-22R cyclic","i":2},{"p":"D","s":"R3 B1-22R E13E A17K","i":3},{"p":"D","s":"R3 B1-22R E13E A17K lactam","i":4},{"p":"D","s":"R3 B1-22R E13K A17D","i":5},{"p":"D","s":"R3 B1-22R E13K A17D lactam","i":6},{"p":"D","s":"R3 B6-22R E13Q T21E","i":7},{"p":"D","s":"R3 B6-22R E13Q T21E cyclic","i":8}
]
},
"columns": 2,
"spacing": {"row": 102, "column": 53},
"bounds": "flush",
"resolve": {"scale": {"x": "independent", "y": "independent", "shape": "independent", "fill": "independent", "strokeDash": "independent"}},
"concat": [
{
"width": 274, "height": 174,
"title": {"text": "A", "dx": -115, "dy": 22},
"encoding": {
 "x": {"field": "x", "type": "quantitative", "scale": {"domain": [-12, -5], "nice": false, "zero": false}, "axis": {"values": [-12,-11,-10,-9,-8,-7,-6,-5], "offset": 28, "title": "Log [Peptide] M", "labelExpr": "datum.value + ''", "labelFlush": false}},
 "y": {"field": "y", "type": "quantitative", "title": "% Specific binding", "scale": {"domain": [0, 140], "nice": false, "zero": false}, "axis": {"values": [0,25,50,75,100,125], "offset": 0, "titlePadding": 34}}
},
"layer": [
 {"data": {"name": "crv"}, "transform": [{"filter": {"field": "p", "equal": "A"}}, {"filter": {"not": {"field": "s", "oneOf": ["R3 B1-22R I15A","R3 B1-22R R16A","R3 B1-22R I19A"]}}}],
  "mark": {"type": "line", "interpolate": "monotone", "color": "black", "strokeWidth": 2},
  "encoding": {"strokeDash": {"field": "s", "type": "nominal", "legend": null, "scale": {"domain": ["R3 B1-22R","R3 B1-22R R8A","R3 B1-22R R12A","R3 B1-22R I15A","R3 B1-22R R16A","R3 B1-22R A17N","R3 B1-22R I19A","R3 B1-22R F20A","R3 B1-22R R23A"], "range": [[1,0],[1,0],[7,3,2,3],[2,2],[1,0],[1,0],[4,3],[7,3,2,3,2,3],[1,0]]}}}},
 {"data": {"name": "crv"}, "transform": [{"filter": {"field": "p", "equal": "A"}}, {"filter": {"field": "s", "oneOf": ["R3 B1-22R I15A","R3 B1-22R R16A","R3 B1-22R I19A"]}}],
  "mark": {"type": "line", "interpolate": "monotone", "color": "black", "strokeWidth": 1.1},
  "encoding": {"strokeDash": {"field": "s", "type": "nominal", "legend": null, "scale": {"domain": ["R3 B1-22R","R3 B1-22R R8A","R3 B1-22R R12A","R3 B1-22R I15A","R3 B1-22R R16A","R3 B1-22R A17N","R3 B1-22R I19A","R3 B1-22R F20A","R3 B1-22R R23A"], "range": [[1,0],[1,0],[7,3,2,3],[2,2],[1,0],[1,0],[4,3],[7,3,2,3,2,3],[1,0]]}}}},
 {"data": {"name": "err"}, "transform": [{"filter": {"field": "p", "equal": "A"}}], "mark": {"type": "rule", "color": "black", "strokeWidth": 1.5},
  "encoding": {"y": {"field": "lo", "type": "quantitative", "title": "% Specific binding"}, "y2": {"field": "hi"}}},
 {"data": {"name": "err"}, "transform": [{"filter": {"field": "p", "equal": "A"}}], "mark": {"type": "tick", "orient": "horizontal", "color": "black", "size": 10, "thickness": 1.5, "opacity": 1},
  "encoding": {"y": {"field": "lo", "type": "quantitative", "title": "% Specific binding"}}},
 {"data": {"name": "err"}, "transform": [{"filter": {"field": "p", "equal": "A"}}], "mark": {"type": "tick", "orient": "horizontal", "color": "black", "size": 10, "thickness": 1.5, "opacity": 1},
  "encoding": {"y": {"field": "hi", "type": "quantitative", "title": "% Specific binding"}}},
 {"data": {"name": "pts"}, "transform": [{"filter": {"field": "p", "equal": "A"}}], "mark": {"type": "point", "filled": true, "stroke": "black", "strokeWidth": 1.5, "size": 80, "opacity": 1},
  "encoding": {
   "shape": {"field": "s", "type": "nominal", "legend": null, "scale": {"domain": ["R3 B1-22R","R3 B1-22R R8A","R3 B1-22R R12A","R3 B1-22R I15A","R3 B1-22R R16A","R3 B1-22R A17N","R3 B1-22R I19A","R3 B1-22R F20A","R3 B1-22R R23A"], "range": ["circle","square","triangle-up","triangle-down","diamond","diamond","circle","triangle-up","M-1,-1L1,1M1,-1L-1,1"]}},
   "fill": {"field": "s", "type": "nominal", "legend": null, "scale": {"domain": ["R3 B1-22R","R3 B1-22R R8A","R3 B1-22R R12A","R3 B1-22R I15A","R3 B1-22R R16A","R3 B1-22R A17N","R3 B1-22R I19A","R3 B1-22R F20A","R3 B1-22R R23A"], "range": ["white","white","black","white","black","white","white","white","white"]}}}}
]
},
{
"width": 220, "height": 174,
"data": {"name": "leg"},
"transform": [{"filter": {"field": "p", "equal": "A"}}],
"encoding": {"y": {"field": "i", "type": "quantitative", "axis": null, "scale": {"domain": [0.434, 7.464], "reverse": true, "nice": false, "zero": false}}},
"layer": [
 {"transform": [{"filter": {"not": {"field": "s", "oneOf": ["R3 B1-22R I15A","R3 B1-22R R16A","R3 B1-22R I19A"]}}}], "mark": {"type": "rule", "color": "black", "strokeWidth": 2},
  "encoding": {"x": {"datum": 0, "type": "quantitative", "axis": null, "scale": {"domain": [0, 10], "nice": false, "zero": false}}, "x2": {"datum": 1},
   "strokeDash": {"field": "s", "type": "nominal", "legend": null, "scale": {"domain": ["R3 B1-22R","R3 B1-22R R8A","R3 B1-22R R12A","R3 B1-22R I15A","R3 B1-22R R16A","R3 B1-22R A17N","R3 B1-22R I19A","R3 B1-22R F20A","R3 B1-22R R23A"], "range": [[1,0],[1,0],[7,3,2,3],[2,2],[1,0],[1,0],[4,3],[7,3,2,3,2,3],[1,0]]}}}},
 {"transform": [{"filter": {"field": "s", "oneOf": ["R3 B1-22R I15A","R3 B1-22R R16A","R3 B1-22R I19A"]}}], "mark": {"type": "rule", "color": "black", "strokeWidth": 1.1},
  "encoding": {"x": {"datum": 0, "type": "quantitative", "axis": null, "scale": {"domain": [0, 10], "nice": false, "zero": false}}, "x2": {"datum": 1},
   "strokeDash": {"field": "s", "type": "nominal", "legend": null, "scale": {"domain": ["R3 B1-22R","R3 B1-22R R8A","R3 B1-22R R12A","R3 B1-22R I15A","R3 B1-22R R16A","R3 B1-22R A17N","R3 B1-22R I19A","R3 B1-22R F20A","R3 B1-22R R23A"], "range": [[1,0],[1,0],[7,3,2,3],[2,2],[1,0],[1,0],[4,3],[7,3,2,3,2,3],[1,0]]}}}},
 {"mark": {"type": "point", "filled": true, "stroke": "black", "strokeWidth": 1.3, "size": 55, "opacity": 1},
  "encoding": {"x": {"datum": 0.5, "type": "quantitative", "axis": null, "scale": {"domain": [0, 10], "nice": false, "zero": false}},
   "shape": {"field": "s", "type": "nominal", "legend": null, "scale": {"domain": ["R3 B1-22R","R3 B1-22R R8A","R3 B1-22R R12A","R3 B1-22R I15A","R3 B1-22R R16A","R3 B1-22R A17N","R3 B1-22R I19A","R3 B1-22R F20A","R3 B1-22R R23A"], "range": ["circle","square","triangle-up","triangle-down","diamond","diamond","circle","triangle-up","M-1,-1L1,1M1,-1L-1,1"]}},
   "fill": {"field": "s", "type": "nominal", "legend": null, "scale": {"domain": ["R3 B1-22R","R3 B1-22R R8A","R3 B1-22R R12A","R3 B1-22R I15A","R3 B1-22R R16A","R3 B1-22R A17N","R3 B1-22R I19A","R3 B1-22R F20A","R3 B1-22R R23A"], "range": ["white","white","black","white","black","white","white","white","white"]}}}},
 {"mark": {"type": "text", "align": "left", "baseline": "middle", "fontSize": 16, "font": "Liberation Sans", "color": "black"},
  "encoding": {"x": {"datum": 1.6, "type": "quantitative", "axis": null, "scale": {"domain": [0, 10], "nice": false, "zero": false}}, "text": {"field": "s"}}}
]
},
{
"width": 274, "height": 174,
"title": {"text": "B", "dx": -115, "dy": 15},
"encoding": {
 "x": {"field": "x", "type": "quantitative", "scale": {"domain": [-12, -5], "nice": false, "zero": false}, "axis": {"values": [-12,-11,-10,-9,-8,-7,-6,-5], "offset": 28, "title": "Log [Peptide] M", "labelExpr": "datum.value + ''", "labelFlush": false}},
 "y": {"field": "y", "type": "quantitative", "title": "% Specific binding", "scale": {"domain": [0, 140], "nice": false, "zero": false}, "axis": {"values": [0,25,50,75,100,125], "offset": 28, "titlePadding": 7}}
},
"layer": [
 {"data": {"name": "crv"}, "transform": [{"filter": {"field": "p", "equal": "B"}}],
  "mark": {"type": "line", "interpolate": "monotone", "color": "black", "strokeWidth": 2},
  "encoding": {"strokeDash": {"field": "s", "type": "nominal", "legend": null, "scale": {"domain": ["R3 B1-22R","R3 B1-22R R23Orn","R3 B1-22R R23Har","R3 B1-22R R23K","R3 B1-22R R23Cit","R3 B1-22R R23Agb"], "range": [[1,0],[1,0],[2,2],[1,0],[1,0],[1,0]]}}}},
 {"data": {"name": "err"}, "transform": [{"filter": {"field": "p", "equal": "B"}}], "mark": {"type": "rule", "color": "black", "strokeWidth": 1.5},
  "encoding": {"y": {"field": "lo", "type": "quantitative", "title": "% Specific binding"}, "y2": {"field": "hi"}}},
 {"data": {"name": "err"}, "transform": [{"filter": {"field": "p", "equal": "B"}}], "mark": {"type": "tick", "orient": "horizontal", "color": "black", "size": 10, "thickness": 1.5, "opacity": 1},
  "encoding": {"y": {"field": "lo", "type": "quantitative", "title": "% Specific binding"}}},
 {"data": {"name": "err"}, "transform": [{"filter": {"field": "p", "equal": "B"}}], "mark": {"type": "tick", "orient": "horizontal", "color": "black", "size": 10, "thickness": 1.5, "opacity": 1},
  "encoding": {"y": {"field": "hi", "type": "quantitative", "title": "% Specific binding"}}},
 {"data": {"name": "pts"}, "transform": [{"filter": {"field": "p", "equal": "B"}}, {"filter": {"not": {"field": "s", "oneOf": ["R3 B1-22R R23Agb"]}}}], "mark": {"type": "point", "filled": true, "stroke": "black", "strokeWidth": 1.5, "size": 80, "opacity": 1},
  "encoding": {
   "shape": {"field": "s", "type": "nominal", "legend": null, "scale": {"domain": ["R3 B1-22R","R3 B1-22R R23Orn","R3 B1-22R R23Har","R3 B1-22R R23K","R3 B1-22R R23Cit","R3 B1-22R R23Agb"], "range": ["circle","circle","square","triangle-up","triangle-down","diamond"]}},
   "fill": {"field": "s", "type": "nominal", "legend": null, "scale": {"domain": ["R3 B1-22R","R3 B1-22R R23Orn","R3 B1-22R R23Har","R3 B1-22R R23K","R3 B1-22R R23Cit","R3 B1-22R R23Agb"], "range": ["white","black","white","black","white","black"]}}}},
 {"data": {"name": "pts"}, "transform": [{"filter": {"field": "p", "equal": "B"}}, {"filter": {"field": "s", "oneOf": ["R3 B1-22R R23Agb"]}}], "mark": {"type": "point", "filled": true, "stroke": "black", "strokeWidth": 1.5, "size": 40, "opacity": 1},
  "encoding": {
   "shape": {"field": "s", "type": "nominal", "legend": null, "scale": {"domain": ["R3 B1-22R","R3 B1-22R R23Orn","R3 B1-22R R23Har","R3 B1-22R R23K","R3 B1-22R R23Cit","R3 B1-22R R23Agb"], "range": ["circle","circle","square","triangle-up","triangle-down","diamond"]}},
   "fill": {"field": "s", "type": "nominal", "legend": null, "scale": {"domain": ["R3 B1-22R","R3 B1-22R R23Orn","R3 B1-22R R23Har","R3 B1-22R R23K","R3 B1-22R R23Cit","R3 B1-22R R23Agb"], "range": ["white","black","white","black","white","black"]}}}}
]
},
{
"width": 220, "height": 174,
"data": {"name": "leg"},
"transform": [{"filter": {"field": "p", "equal": "B"}}],
"encoding": {"y": {"field": "i", "type": "quantitative", "axis": null, "scale": {"domain": [0.323, 6.864], "reverse": true, "nice": false, "zero": false}}},
"layer": [
 {"mark": {"type": "rule", "color": "black", "strokeWidth": 2},
  "encoding": {"x": {"datum": 0, "type": "quantitative", "axis": null, "scale": {"domain": [0, 10], "nice": false, "zero": false}}, "x2": {"datum": 1},
   "strokeDash": {"field": "s", "type": "nominal", "legend": null, "scale": {"domain": ["R3 B1-22R","R3 B1-22R R23Orn","R3 B1-22R R23Har","R3 B1-22R R23K","R3 B1-22R R23Cit","R3 B1-22R R23Agb"], "range": [[1,0],[1,0],[2,2],[1,0],[1,0],[1,0]]}}}},
 {"transform": [{"filter": {"not": {"field": "s", "oneOf": ["R3 B1-22R R23Agb"]}}}], "mark": {"type": "point", "filled": true, "stroke": "black", "strokeWidth": 1.3, "size": 55, "opacity": 1},
  "encoding": {"x": {"datum": 0.5, "type": "quantitative", "axis": null, "scale": {"domain": [0, 10], "nice": false, "zero": false}},
   "shape": {"field": "s", "type": "nominal", "legend": null, "scale": {"domain": ["R3 B1-22R","R3 B1-22R R23Orn","R3 B1-22R R23Har","R3 B1-22R R23K","R3 B1-22R R23Cit","R3 B1-22R R23Agb"], "range": ["circle","circle","square","triangle-up","triangle-down","diamond"]}},
   "fill": {"field": "s", "type": "nominal", "legend": null, "scale": {"domain": ["R3 B1-22R","R3 B1-22R R23Orn","R3 B1-22R R23Har","R3 B1-22R R23K","R3 B1-22R R23Cit","R3 B1-22R R23Agb"], "range": ["white","black","white","black","white","black"]}}}},
 {"transform": [{"filter": {"field": "s", "oneOf": ["R3 B1-22R R23Agb"]}}], "mark": {"type": "point", "filled": true, "stroke": "black", "strokeWidth": 1.3, "size": 30, "opacity": 1},
  "encoding": {"x": {"datum": 0.5, "type": "quantitative", "axis": null, "scale": {"domain": [0, 10], "nice": false, "zero": false}},
   "shape": {"field": "s", "type": "nominal", "legend": null, "scale": {"domain": ["R3 B1-22R","R3 B1-22R R23Orn","R3 B1-22R R23Har","R3 B1-22R R23K","R3 B1-22R R23Cit","R3 B1-22R R23Agb"], "range": ["circle","circle","square","triangle-up","triangle-down","diamond"]}},
   "fill": {"field": "s", "type": "nominal", "legend": null, "scale": {"domain": ["R3 B1-22R","R3 B1-22R R23Orn","R3 B1-22R R23Har","R3 B1-22R R23K","R3 B1-22R R23Cit","R3 B1-22R R23Agb"], "range": ["white","black","white","black","white","black"]}}}},
 {"mark": {"type": "text", "align": "left", "baseline": "middle", "fontSize": 16, "font": "Liberation Sans", "color": "black"},
  "encoding": {"x": {"datum": 1.6, "type": "quantitative", "axis": null, "scale": {"domain": [0, 10], "nice": false, "zero": false}}, "text": {"field": "s"}}}
]
},
{
"width": 274, "height": 174,
"title": {"text": "C", "dx": -115, "dy": 24},
"encoding": {
 "x": {"field": "x", "type": "quantitative", "scale": {"domain": [-12, -5], "nice": false, "zero": false}, "axis": {"values": [-12,-11,-10,-9,-8,-7,-6,-5], "offset": 28, "title": "Log [Peptide] M", "labelExpr": "datum.value + ''", "labelFlush": false}},
 "y": {"field": "y", "type": "quantitative", "title": "% Specific binding", "scale": {"domain": [0, 140], "nice": false, "zero": false}, "axis": {"values": [0,25,50,75,100,125], "offset": 36, "titlePadding": 1}}
},
"layer": [
 {"data": {"name": "crv"}, "transform": [{"filter": {"field": "p", "equal": "C"}}],
  "mark": {"type": "line", "interpolate": "monotone", "color": "black", "strokeWidth": 2},
  "encoding": {"strokeDash": {"field": "s", "type": "nominal", "legend": null, "scale": {"domain": ["R3 B1-22R","R3 B1-22R L9P","R3 B1-22R A17P","R3 B1-22R F20P","R3 B1-22R A17Aib","R3 B1-22R T21Aib","R3 B1-22R F14 V18 T21Aib"], "range": [[1,0],[6,4],[1,0],[1,0],[6,4],[1,0],[6,4]]}}}},
 {"data": {"name": "err"}, "transform": [{"filter": {"field": "p", "equal": "C"}}], "mark": {"type": "rule", "color": "black", "strokeWidth": 1.5},
  "encoding": {"y": {"field": "lo", "type": "quantitative", "title": "% Specific binding"}, "y2": {"field": "hi"}}},
 {"data": {"name": "err"}, "transform": [{"filter": {"field": "p", "equal": "C"}}], "mark": {"type": "tick", "orient": "horizontal", "color": "black", "size": 10, "thickness": 1.5, "opacity": 1},
  "encoding": {"y": {"field": "lo", "type": "quantitative", "title": "% Specific binding"}}},
 {"data": {"name": "err"}, "transform": [{"filter": {"field": "p", "equal": "C"}}], "mark": {"type": "tick", "orient": "horizontal", "color": "black", "size": 10, "thickness": 1.5, "opacity": 1},
  "encoding": {"y": {"field": "hi", "type": "quantitative", "title": "% Specific binding"}}},
 {"data": {"name": "pts"}, "transform": [{"filter": {"field": "p", "equal": "C"}}, {"filter": {"not": {"field": "s", "oneOf": ["R3 B1-22R A17P"]}}}], "mark": {"type": "point", "filled": true, "stroke": "black", "strokeWidth": 1.5, "size": 80, "opacity": 1},
  "encoding": {
   "shape": {"field": "s", "type": "nominal", "legend": null, "scale": {"domain": ["R3 B1-22R","R3 B1-22R L9P","R3 B1-22R A17P","R3 B1-22R F20P","R3 B1-22R A17Aib","R3 B1-22R T21Aib","R3 B1-22R F14 V18 T21Aib"], "range": ["circle","triangle-down","diamond","square","triangle-up","triangle-down","M-1,-1L1,1M1,-1L-1,1"]}},
   "fill": {"field": "s", "type": "nominal", "legend": null, "scale": {"domain": ["R3 B1-22R","R3 B1-22R L9P","R3 B1-22R A17P","R3 B1-22R F20P","R3 B1-22R A17Aib","R3 B1-22R T21Aib","R3 B1-22R F14 V18 T21Aib"], "range": ["white","black","black","black","white","white","white"]}}}},
 {"data": {"name": "pts"}, "transform": [{"filter": {"field": "p", "equal": "C"}}, {"filter": {"field": "s", "oneOf": ["R3 B1-22R A17P"]}}], "mark": {"type": "point", "filled": true, "stroke": "black", "strokeWidth": 1.5, "size": 40, "opacity": 1},
  "encoding": {
   "shape": {"field": "s", "type": "nominal", "legend": null, "scale": {"domain": ["R3 B1-22R","R3 B1-22R L9P","R3 B1-22R A17P","R3 B1-22R F20P","R3 B1-22R A17Aib","R3 B1-22R T21Aib","R3 B1-22R F14 V18 T21Aib"], "range": ["circle","triangle-down","diamond","square","triangle-up","triangle-down","M-1,-1L1,1M1,-1L-1,1"]}},
   "fill": {"field": "s", "type": "nominal", "legend": null, "scale": {"domain": ["R3 B1-22R","R3 B1-22R L9P","R3 B1-22R A17P","R3 B1-22R F20P","R3 B1-22R A17Aib","R3 B1-22R T21Aib","R3 B1-22R F14 V18 T21Aib"], "range": ["white","black","black","black","white","white","white"]}}}}
]
},
{
"width": 220, "height": 174,
"data": {"name": "leg"},
"transform": [{"filter": {"field": "p", "equal": "C"}}],
"encoding": {"y": {"field": "i", "type": "quantitative", "axis": null, "scale": {"domain": [-0.151, 6.754], "reverse": true, "nice": false, "zero": false}}},
"layer": [
 {"mark": {"type": "rule", "color": "black", "strokeWidth": 2},
  "encoding": {"x": {"datum": 0, "type": "quantitative", "axis": null, "scale": {"domain": [0, 10], "nice": false, "zero": false}}, "x2": {"datum": 1},
   "strokeDash": {"field": "s", "type": "nominal", "legend": null, "scale": {"domain": ["R3 B1-22R","R3 B1-22R L9P","R3 B1-22R A17P","R3 B1-22R F20P","R3 B1-22R A17Aib","R3 B1-22R T21Aib","R3 B1-22R F14 V18 T21Aib"], "range": [[1,0],[6,4],[1,0],[1,0],[6,4],[1,0],[6,4]]}}}},
 {"transform": [{"filter": {"not": {"field": "s", "oneOf": ["R3 B1-22R A17P"]}}}], "mark": {"type": "point", "filled": true, "stroke": "black", "strokeWidth": 1.3, "size": 55, "opacity": 1},
  "encoding": {"x": {"datum": 0.5, "type": "quantitative", "axis": null, "scale": {"domain": [0, 10], "nice": false, "zero": false}},
   "shape": {"field": "s", "type": "nominal", "legend": null, "scale": {"domain": ["R3 B1-22R","R3 B1-22R L9P","R3 B1-22R A17P","R3 B1-22R F20P","R3 B1-22R A17Aib","R3 B1-22R T21Aib","R3 B1-22R F14 V18 T21Aib"], "range": ["circle","triangle-down","diamond","square","triangle-up","triangle-down","M-1,-1L1,1M1,-1L-1,1"]}},
   "fill": {"field": "s", "type": "nominal", "legend": null, "scale": {"domain": ["R3 B1-22R","R3 B1-22R L9P","R3 B1-22R A17P","R3 B1-22R F20P","R3 B1-22R A17Aib","R3 B1-22R T21Aib","R3 B1-22R F14 V18 T21Aib"], "range": ["white","black","black","black","white","white","white"]}}}},
 {"transform": [{"filter": {"field": "s", "oneOf": ["R3 B1-22R A17P"]}}], "mark": {"type": "point", "filled": true, "stroke": "black", "strokeWidth": 1.3, "size": 30, "opacity": 1},
  "encoding": {"x": {"datum": 0.5, "type": "quantitative", "axis": null, "scale": {"domain": [0, 10], "nice": false, "zero": false}},
   "shape": {"field": "s", "type": "nominal", "legend": null, "scale": {"domain": ["R3 B1-22R","R3 B1-22R L9P","R3 B1-22R A17P","R3 B1-22R F20P","R3 B1-22R A17Aib","R3 B1-22R T21Aib","R3 B1-22R F14 V18 T21Aib"], "range": ["circle","triangle-down","diamond","square","triangle-up","triangle-down","M-1,-1L1,1M1,-1L-1,1"]}},
   "fill": {"field": "s", "type": "nominal", "legend": null, "scale": {"domain": ["R3 B1-22R","R3 B1-22R L9P","R3 B1-22R A17P","R3 B1-22R F20P","R3 B1-22R A17Aib","R3 B1-22R T21Aib","R3 B1-22R F14 V18 T21Aib"], "range": ["white","black","black","black","white","white","white"]}}}},
 {"mark": {"type": "text", "align": "left", "baseline": "middle", "fontSize": 16, "font": "Liberation Sans", "color": "black"},
  "encoding": {"x": {"datum": 1.6, "type": "quantitative", "axis": null, "scale": {"domain": [0, 10], "nice": false, "zero": false}}, "text": {"field": "s"}}}
]
},
{
"width": 274, "height": 174,
"title": {"text": "D", "dx": -115, "dy": 20},
"encoding": {
 "x": {"field": "x", "type": "quantitative", "scale": {"domain": [-12, -5], "nice": false, "zero": false}, "axis": {"values": [-12,-11,-10,-9,-8,-7,-6,-5], "offset": 28, "title": "Log [Peptide] M", "labelExpr": "datum.value + ''", "labelFlush": false}},
 "y": {"field": "y", "type": "quantitative", "title": "% Specific binding", "scale": {"domain": [0, 140], "nice": false, "zero": false}, "axis": {"values": [0,25,50,75,100,125], "offset": 36, "titlePadding": 1}}
},
"layer": [
 {"data": {"name": "crv"}, "transform": [{"filter": {"field": "p", "equal": "D"}}],
  "mark": {"type": "line", "interpolate": "monotone", "color": "black", "strokeWidth": 2},
  "encoding": {"strokeDash": {"field": "s", "type": "nominal", "legend": null, "scale": {"domain": ["R3 B1-22R","R3 B1-22R cyclic","R3 B1-22R E13E A17K","R3 B1-22R E13E A17K lactam","R3 B1-22R E13K A17D","R3 B1-22R E13K A17D lactam","R3 B6-22R E13Q T21E","R3 B6-22R E13Q T21E cyclic"], "range": [[1,0],[1,0],[1,0],[7,3,2,3],[2,2],[2,2],[1,0],[1,0]]}}}},
 {"data": {"name": "err"}, "transform": [{"filter": {"field": "p", "equal": "D"}}], "mark": {"type": "rule", "color": "black", "strokeWidth": 1.5},
  "encoding": {"y": {"field": "lo", "type": "quantitative", "title": "% Specific binding"}, "y2": {"field": "hi"}}},
 {"data": {"name": "err"}, "transform": [{"filter": {"field": "p", "equal": "D"}}], "mark": {"type": "tick", "orient": "horizontal", "color": "black", "size": 10, "thickness": 1.5, "opacity": 1},
  "encoding": {"y": {"field": "lo", "type": "quantitative", "title": "% Specific binding"}}},
 {"data": {"name": "err"}, "transform": [{"filter": {"field": "p", "equal": "D"}}], "mark": {"type": "tick", "orient": "horizontal", "color": "black", "size": 10, "thickness": 1.5, "opacity": 1},
  "encoding": {"y": {"field": "hi", "type": "quantitative", "title": "% Specific binding"}}},
 {"data": {"name": "pts"}, "transform": [{"filter": {"field": "p", "equal": "D"}}, {"filter": {"not": {"field": "s", "oneOf": ["R3 B1-22R E13E A17K lactam"]}}}], "mark": {"type": "point", "filled": true, "stroke": "black", "strokeWidth": 1.5, "size": 80, "opacity": 1},
  "encoding": {
   "shape": {"field": "s", "type": "nominal", "legend": null, "scale": {"domain": ["R3 B1-22R","R3 B1-22R cyclic","R3 B1-22R E13E A17K","R3 B1-22R E13E A17K lactam","R3 B1-22R E13K A17D","R3 B1-22R E13K A17D lactam","R3 B6-22R E13Q T21E","R3 B6-22R E13Q T21E cyclic"], "range": ["circle","circle","diamond","diamond","square","square","triangle-up","triangle-up"]}},
   "fill": {"field": "s", "type": "nominal", "legend": null, "scale": {"domain": ["R3 B1-22R","R3 B1-22R cyclic","R3 B1-22R E13E A17K","R3 B1-22R E13E A17K lactam","R3 B1-22R E13K A17D","R3 B1-22R E13K A17D lactam","R3 B6-22R E13Q T21E","R3 B6-22R E13Q T21E cyclic"], "range": ["white","black","white","black","white","black","white","black"]}}}},
 {"data": {"name": "pts"}, "transform": [{"filter": {"field": "p", "equal": "D"}}, {"filter": {"field": "s", "oneOf": ["R3 B1-22R E13E A17K lactam"]}}], "mark": {"type": "point", "filled": true, "stroke": "black", "strokeWidth": 1.5, "size": 40, "opacity": 1},
  "encoding": {
   "shape": {"field": "s", "type": "nominal", "legend": null, "scale": {"domain": ["R3 B1-22R","R3 B1-22R cyclic","R3 B1-22R E13E A17K","R3 B1-22R E13E A17K lactam","R3 B1-22R E13K A17D","R3 B1-22R E13K A17D lactam","R3 B6-22R E13Q T21E","R3 B6-22R E13Q T21E cyclic"], "range": ["circle","circle","diamond","diamond","square","square","triangle-up","triangle-up"]}},
   "fill": {"field": "s", "type": "nominal", "legend": null, "scale": {"domain": ["R3 B1-22R","R3 B1-22R cyclic","R3 B1-22R E13E A17K","R3 B1-22R E13E A17K lactam","R3 B1-22R E13K A17D","R3 B1-22R E13K A17D lactam","R3 B6-22R E13Q T21E","R3 B6-22R E13Q T21E cyclic"], "range": ["white","black","white","black","white","black","white","black"]}}}}
]
},
{
"width": 220, "height": 174,
"data": {"name": "leg"},
"transform": [{"filter": {"field": "p", "equal": "D"}}],
"encoding": {"y": {"field": "i", "type": "quantitative", "axis": null, "scale": {"domain": [0.181, 6.659], "reverse": true, "nice": false, "zero": false}}},
"layer": [
 {"mark": {"type": "rule", "color": "black", "strokeWidth": 2},
  "encoding": {"x": {"datum": 0, "type": "quantitative", "axis": null, "scale": {"domain": [0, 10], "nice": false, "zero": false}}, "x2": {"datum": 1},
   "strokeDash": {"field": "s", "type": "nominal", "legend": null, "scale": {"domain": ["R3 B1-22R","R3 B1-22R cyclic","R3 B1-22R E13E A17K","R3 B1-22R E13E A17K lactam","R3 B1-22R E13K A17D","R3 B1-22R E13K A17D lactam","R3 B6-22R E13Q T21E","R3 B6-22R E13Q T21E cyclic"], "range": [[1,0],[1,0],[1,0],[7,3,2,3],[2,2],[2,2],[1,0],[1,0]]}}}},
 {"transform": [{"filter": {"not": {"field": "s", "oneOf": ["R3 B1-22R E13E A17K lactam"]}}}], "mark": {"type": "point", "filled": true, "stroke": "black", "strokeWidth": 1.3, "size": 55, "opacity": 1},
  "encoding": {"x": {"datum": 0.5, "type": "quantitative", "axis": null, "scale": {"domain": [0, 10], "nice": false, "zero": false}},
   "shape": {"field": "s", "type": "nominal", "legend": null, "scale": {"domain": ["R3 B1-22R","R3 B1-22R cyclic","R3 B1-22R E13E A17K","R3 B1-22R E13E A17K lactam","R3 B1-22R E13K A17D","R3 B1-22R E13K A17D lactam","R3 B6-22R E13Q T21E","R3 B6-22R E13Q T21E cyclic"], "range": ["circle","circle","diamond","diamond","square","square","triangle-up","triangle-up"]}},
   "fill": {"field": "s", "type": "nominal", "legend": null, "scale": {"domain": ["R3 B1-22R","R3 B1-22R cyclic","R3 B1-22R E13E A17K","R3 B1-22R E13E A17K lactam","R3 B1-22R E13K A17D","R3 B1-22R E13K A17D lactam","R3 B6-22R E13Q T21E","R3 B6-22R E13Q T21E cyclic"], "range": ["white","black","white","black","white","black","white","black"]}}}},
 {"transform": [{"filter": {"field": "s", "oneOf": ["R3 B1-22R E13E A17K lactam"]}}], "mark": {"type": "point", "filled": true, "stroke": "black", "strokeWidth": 1.3, "size": 30, "opacity": 1},
  "encoding": {"x": {"datum": 0.5, "type": "quantitative", "axis": null, "scale": {"domain": [0, 10], "nice": false, "zero": false}},
   "shape": {"field": "s", "type": "nominal", "legend": null, "scale": {"domain": ["R3 B1-22R","R3 B1-22R cyclic","R3 B1-22R E13E A17K","R3 B1-22R E13E A17K lactam","R3 B1-22R E13K A17D","R3 B1-22R E13K A17D lactam","R3 B6-22R E13Q T21E","R3 B6-22R E13Q T21E cyclic"], "range": ["circle","circle","diamond","diamond","square","square","triangle-up","triangle-up"]}},
   "fill": {"field": "s", "type": "nominal", "legend": null, "scale": {"domain": ["R3 B1-22R","R3 B1-22R cyclic","R3 B1-22R E13E A17K","R3 B1-22R E13E A17K lactam","R3 B1-22R E13K A17D","R3 B1-22R E13K A17D lactam","R3 B6-22R E13Q T21E","R3 B6-22R E13Q T21E cyclic"], "range": ["white","black","white","black","white","black","white","black"]}}}},
 {"mark": {"type": "text", "align": "left", "baseline": "middle", "fontSize": 16, "font": "Liberation Sans", "color": "black"},
  "encoding": {"x": {"datum": 1.6, "type": "quantitative", "axis": null, "scale": {"domain": [0, 10], "nice": false, "zero": false}}, "text": {"field": "s"}}}
]
}
]
}
